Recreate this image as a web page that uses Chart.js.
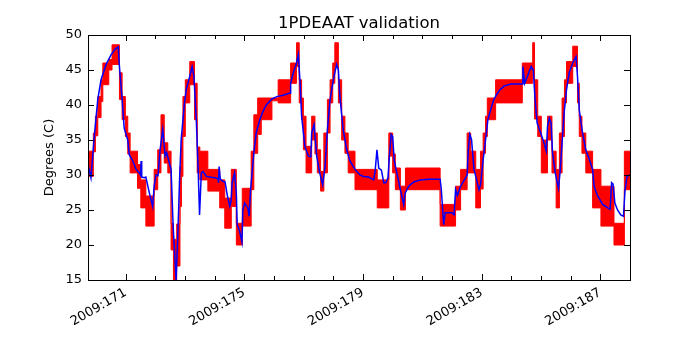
<!DOCTYPE html>
<html>
<head>
<meta charset="utf-8">
<script src="https://cdn.jsdelivr.net/npm/chart.js@4/dist/chart.umd.min.js"></script>
<style>
  html, body { margin: 0; padding: 0; background: #fff; }
  #wrap { width: 700px; height: 350px; }
</style>
</head>
<body>
<div id="wrap"><canvas id="myChart" width="700" height="350"></canvas></div>
<script>
// Modelo (linea azul): dia del anio y grados
const blueDays = [169.73, 169.83, 169.94, 170.06, 170.17, 170.34, 170.51, 170.67, 170.75, 170.78,
  170.88, 170.95, 171.07, 171.12, 171.24, 171.35, 171.46, 171.50, 171.52, 171.54,
  171.63, 171.68, 171.80, 171.91, 171.96, 172.02, 172.09, 172.16, 172.25, 172.33,
  172.38, 172.53, 172.60, 172.70, 172.76, 172.82, 172.87, 172.97, 173.04, 173.16,
  173.24, 173.30, 173.38, 173.44, 173.49, 173.55, 173.61, 173.72, 173.83, 174.00,
  174.11, 174.13, 174.15, 174.19, 174.28, 174.35, 174.43, 174.51, 174.55, 174.59,
  174.67, 174.73, 174.76, 174.84, 174.92, 174.95, 175.01, 175.12, 175.16, 175.21,
  175.26, 175.33, 175.40, 175.52, 175.63, 175.74, 175.91, 176.09, 176.31, 176.54,
  176.56, 176.65, 176.76, 176.82, 176.88, 176.93, 177.04, 177.16, 177.24, 177.27,
  177.35, 177.44, 177.53, 177.64, 177.72, 177.80, 177.89, 178.00, 178.11, 178.17,
  178.22, 178.33, 178.45, 178.56, 178.73, 178.90, 179.01, 179.19, 179.36, 179.41,
  179.47, 179.53, 179.62, 179.70, 179.77, 179.84, 179.89, 179.95, 180.00, 180.05,
  180.14, 180.26, 180.37, 180.42, 180.54, 180.71, 180.93, 181.21, 181.60, 181.64,
  181.72, 181.77, 182.00, 182.07, 182.12, 182.18, 182.29, 182.46, 182.51, 182.55,
  182.60, 182.66, 182.74, 182.83, 182.91, 182.96, 183.05, 183.13, 183.21, 183.30,
  183.41, 183.58, 183.75, 183.98, 184.26, 184.37, 184.39, 184.45, 184.56, 184.67,
  184.74, 184.80, 184.87, 184.99, 185.10, 185.18, 185.22, 185.28, 185.34, 185.39,
  185.48, 185.59, 185.64, 185.71, 185.78, 185.86, 185.95, 186.07, 186.18, 186.23,
  186.29, 186.40, 186.51, 186.63, 186.74, 186.79, 186.91, 187.08, 187.25, 187.33,
  187.38, 187.43, 187.49, 187.58, 187.69, 187.78, 187.83, 187.90, 188.00];
const blueTemps = [31.5, 29.6, 35.5, 40.8, 43.6, 45.8, 47.2, 48.1, 48.3, 46.0,
  40.8, 36.7, 35.0, 32.9, 32.0, 30.8, 30.3, 30.0, 32.0, 29.7,
  29.6, 29.7, 27.4, 25.5, 28.4, 30.0, 29.9, 33.6, 36.5, 32.7,
  33.2, 30.8, 22.7, 15.0, 21.7, 29.8, 35.0, 39.8, 42.2, 44.1,
  45.5, 44.1, 37.9, 31.2, 24.3, 30.3, 30.5, 29.8, 29.7, 29.6,
  29.5, 28.9, 31.2, 29.4, 29.1, 29.0, 27.0, 25.5, 26.2, 28.9,
  30.3, 27.4, 22.9, 22.0, 20.4, 25.0, 26.0, 25.3, 24.1, 27.9,
  30.3, 33.6, 36.0, 37.9, 39.1, 40.0, 40.8, 41.2, 41.4, 41.7,
  43.1, 44.6, 46.0, 47.2, 43.1, 38.4, 34.1, 32.7, 32.6, 36.0,
  37.2, 32.7, 30.5, 28.6, 31.2, 36.5, 40.8, 43.6, 45.8, 45.0,
  41.2, 36.5, 33.6, 32.0, 30.8, 30.0, 29.8, 29.7, 29.3, 30.6,
  33.6, 31.0, 30.7, 28.9, 28.9, 29.6, 32.7, 35.8, 35.5, 32.2,
  30.3, 27.9, 25.8, 27.4, 28.4, 29.0, 29.3, 29.4, 29.4, 27.9,
  22.9, 24.6, 24.6, 24.3, 27.9, 27.1, 28.4, 29.6, 30.0, 33.6,
  35.8, 35.0, 30.8, 29.3, 27.9, 28.6, 32.2, 35.0, 37.9, 39.3,
  40.8, 42.0, 42.7, 43.0, 43.0, 43.0, 45.5, 43.1, 44.3, 45.5,
  45.0, 40.8, 37.4, 36.0, 34.6, 33.4, 37.0, 38.1, 37.4, 33.1,
  30.3, 28.1, 30.3, 34.6, 38.9, 42.2, 44.6, 46.0, 46.9, 44.1,
  39.3, 36.0, 33.6, 32.2, 30.8, 28.4, 27.0, 25.8, 25.3, 25.1,
  28.9, 28.7, 26.0, 25.0, 24.3, 24.1, 27.7, 29.8, 30.0];

// Telemetria (banda roja): inicio de cada tramo, minimo y maximo
const redDays = [169.73, 169.91, 169.98, 170.06, 170.17, 170.23, 170.43, 170.54, 170.79, 170.88,
  170.99, 171.07, 171.15, 171.40, 171.51, 171.68, 171.96, 172.08, 172.19, 172.30,
  172.42, 172.53, 172.61, 172.72, 172.83, 172.88, 172.93, 173.01, 173.16, 173.32,
  173.41, 173.50, 173.77, 174.17, 174.34, 174.56, 174.73, 174.93, 175.23, 175.32,
  175.45, 175.57, 175.93, 176.14, 176.56, 176.76, 176.85, 176.93, 176.99, 177.08,
  177.27, 177.38, 177.46, 177.57, 177.68, 177.80, 177.89, 177.98, 178.05, 178.17,
  178.28, 178.39, 178.50, 178.73, 179.48, 179.87, 180.00, 180.09, 180.26, 180.43,
  181.60, 182.12, 182.29, 182.51, 182.63, 182.80, 182.96, 183.05, 183.13, 183.19,
  183.47, 184.37, 184.72, 184.78, 184.89, 185.01, 185.22, 185.37, 185.51, 185.62,
  185.71, 185.79, 185.86, 186.07, 186.23, 186.29, 186.38, 186.51, 186.74, 187.02,
  187.46, 187.81, 188.00];
const redLow = [29.8, 33.3, 35.6, 38.2, 40.5, 42.9, 45.0, 45.8, 40.8, 37.9,
  35.5, 33.0, 30.3, 28.1, 25.3, 22.7, 27.9, 30.3, 33.1, 31.7,
  30.3, 19.3, 15.0, 17.0, 25.5, 29.8, 35.5, 40.3, 42.9, 37.9,
  30.3, 29.3, 27.7, 25.3, 22.4, 25.5, 20.0, 22.7, 27.9, 33.1,
  35.8, 37.9, 40.6, 40.3, 43.1, 45.5, 40.3, 37.9, 33.6, 30.3,
  35.0, 33.0, 30.3, 27.7, 30.3, 36.0, 40.3, 43.1, 45.5, 40.3,
  35.0, 33.1, 30.3, 27.9, 25.3, 32.7, 30.3, 27.9, 25.0, 27.9,
  22.7, 25.0, 27.9, 30.3, 30.3, 25.3, 28.0, 33.1, 35.5, 37.9,
  40.3, 43.1, 45.0, 38.0, 35.5, 30.3, 35.0, 30.3, 25.3, 30.3,
  35.5, 40.3, 43.1, 45.5, 40.3, 35.5, 33.1, 30.3, 25.3, 22.7,
  20.0, 27.9, 27.9];
const redHigh = [33.4, 36.0, 38.4, 41.2, 43.6, 46.0, 46.5, 48.6, 44.6, 41.2,
  38.4, 36.0, 33.4, 31.5, 29.3, 27.0, 30.8, 33.6, 38.6, 34.6,
  33.4, 23.1, 20.8, 23.0, 31.2, 36.0, 41.2, 43.6, 46.2, 43.1,
  34.0, 33.4, 30.8, 29.3, 26.7, 30.8, 23.1, 28.1, 33.4, 38.6,
  41.0, 41.0, 41.0, 43.6, 46.0, 48.9, 43.6, 41.0, 38.4, 34.1,
  38.4, 36.0, 33.6, 30.5, 36.0, 40.8, 43.6, 46.0, 48.9, 43.6,
  38.4, 36.0, 33.4, 30.8, 29.3, 36.0, 33.0, 31.0, 28.4, 31.0,
  25.8, 28.4, 30.8, 36.0, 33.4, 30.8, 33.4, 36.0, 38.4, 41.0,
  43.6, 46.0, 48.9, 43.6, 38.4, 35.0, 38.4, 33.4, 30.8, 36.0,
  41.0, 43.6, 46.2, 48.4, 43.1, 38.4, 36.0, 33.4, 30.8, 28.4,
  23.1, 33.4, 33.4];

// Ejes
const xMin = 169.73;
const xMax = 188.0;
const yTicks = [15, 20, 25, 30, 35, 40, 45, 50];
const labelYear = "2009";
const labelEvery = 4;
const firstLabelDay = 171;

const FONT = "'DejaVu Sans', 'Liberation Sans', sans-serif";

function toPoints(xs, ys) {
  return xs.map((x, i) => ({ x: x, y: ys[i] }));
}

function isLabelDay(v) {
  return Math.abs(v - Math.round(v)) < 1e-6 && (Math.round(v) - firstLabelDay) % labelEvery === 0;
}

// Marco negro y ticks hacia adentro, como matplotlib
const frameTicks = {
  id: "frameTicks",
  afterDatasetsDraw(chart) {
    const { ctx, chartArea: a, scales } = chart;
    const x = scales.x, y = scales.y;
    ctx.save();
    ctx.strokeStyle = "#000";
    ctx.lineWidth = 1;
    ctx.beginPath();
    x.ticks.forEach((t) => {
      if (Math.abs(t.value - Math.round(t.value)) > 1e-6) return;
      const px = Math.round(x.getPixelForValue(t.value)) + 0.5;
      const len = isLabelDay(t.value) ? 6 : 4;
      ctx.moveTo(px, a.bottom);
      ctx.lineTo(px, a.bottom - len);
      ctx.moveTo(px, a.top);
      ctx.lineTo(px, a.top + len);
    });
    yTicks.forEach((v) => {
      const py = Math.round(y.getPixelForValue(v)) + 0.5;
      ctx.moveTo(a.left, py);
      ctx.lineTo(a.left + 6, py);
      ctx.moveTo(a.right, py);
      ctx.lineTo(a.right - 6, py);
    });
    ctx.stroke();
    ctx.strokeRect(Math.round(a.left) + 0.5, Math.round(a.top) + 0.5,
      Math.round(a.right - a.left), Math.round(a.bottom - a.top));
    ctx.restore();
  },
};

function generateChart() {
  const ctx = document.getElementById("myChart").getContext("2d");
  new Chart(ctx, {
    type: "line",
    data: {
      datasets: [
        {
          label: "model",
          data: toPoints(blueDays, blueTemps),
          borderColor: "#0000ff",
          borderWidth: 1.5,
          pointRadius: 0,
          tension: 0,
          fill: false,
        },
        {
          label: "telem high",
          data: toPoints(redDays, redHigh),
          borderColor: "#ff0000",
          borderWidth: 1,
          pointRadius: 0,
          stepped: true,
          fill: false,
        },
        {
          label: "telem low",
          data: toPoints(redDays, redLow),
          borderColor: "#ff0000",
          backgroundColor: "#ff0000",
          borderWidth: 1,
          pointRadius: 0,
          stepped: true,
          fill: "-1",
        },
      ],
    },
    options: {
      responsive: false,
      animation: false,
      layout: { padding: { left: 18, right: 0, top: 0, bottom: 0 } },
      scales: {
        x: {
          type: "linear",
          min: xMin,
          max: xMax,
          grid: { display: false, drawTicks: false },
          border: { display: false },
          ticks: {
            stepSize: 1,
            autoSkip: false,
            minRotation: 30,
            maxRotation: 30,
            padding: 5,
            color: "#000",
            font: { family: FONT, size: 13 },
            callback: (v) => (isLabelDay(v) ? labelYear + ":" + Math.round(v) : ""),
          },
          afterFit(s) { s.height = 70; },
        },
        y: {
          min: yTicks[0],
          max: yTicks[yTicks.length - 1],
          grid: { display: false, drawTicks: false },
          border: { display: false },
          ticks: {
            stepSize: 5,
            padding: 6,
            color: "#000",
            font: { family: FONT, size: 13 },
          },
          title: {
            display: true,
            text: "Degrees (C)",
            color: "#000",
            font: { family: FONT, size: 13 },
            padding: { top: 24, bottom: 0 },
          },
          afterFit(s) { s.width = 70; },
        },
        // eje vacio a la derecha, solo reserva el margen
        yRight: {
          position: "right",
          display: true,
          grid: { display: false, drawTicks: false },
          border: { display: false },
          ticks: { display: false },
          afterFit(s) { s.width = 70; },
        },
      },
      plugins: {
        legend: { display: false },
        tooltip: { enabled: false },
        title: {
          display: true,
          text: "1PDEAAT validation",
          color: "#000",
          font: { family: FONT, size: 16.5, weight: "normal" },
          padding: { top: 13.5, bottom: 1.7 },
        },
      },
    },
    plugins: [frameTicks],
  });
}

generateChart();
</script>
</body>
</html>
